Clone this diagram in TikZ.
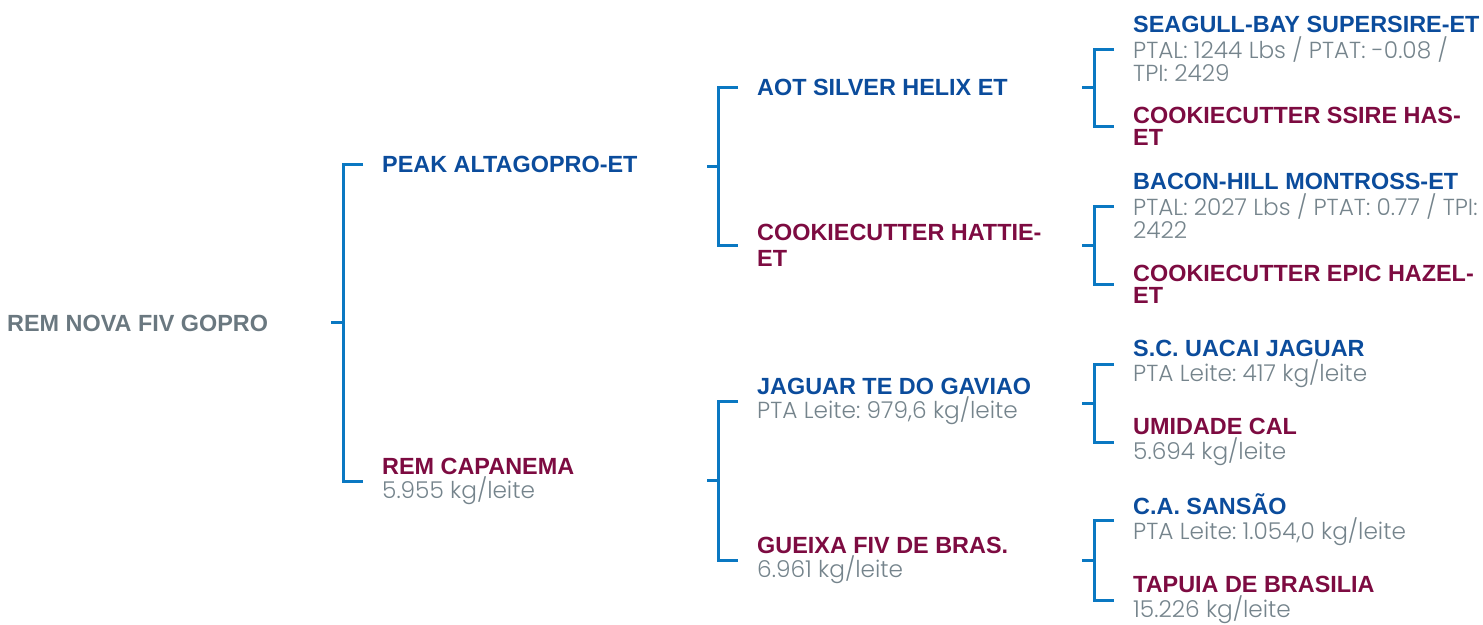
\documentclass[tikz,border=0pt]{standalone}
\usepackage{fontspec}
\usetikzlibrary{calc}
\newfontfamily\bfam{Liberation Sans}
\newfontfamily\lfam{Poppins Light}
\definecolor{nblue}{HTML}{0B4C9C}
\definecolor{nmaroon}{HTML}{7D0B41}
\definecolor{rootgray}{HTML}{6A7880}
\definecolor{dgray}{HTML}{75848C}
\definecolor{brblue}{HTML}{0A78C2}
\frenchspacing
\newcommand{\sire}[1]{{\color{nblue}\bfam\bfseries #1}}
\newcommand{\dam}[1]{{\color{nmaroon}\bfam\bfseries #1}}
\newcommand{\dat}[1]{{\color{dgray}\lfam\fontsize{23.2}{24}\selectfont\frenchspacing #1}}
\begin{document}
\begin{tikzpicture}[x=1pt,y=-1pt,
  txt/.style={anchor=west,inner sep=0pt,align=left,font=\fontsize{23.4}{26}\selectfont},
  br/.style={draw=brblue,line width=3pt}]
\useasboundingbox (0,0) rectangle (1483,624);
% root
\node[txt] (root) at (7,323) {{\color{rootgray}\bfam\bfseries REM NOVA FIV GOPRO}};
% generation 1
\node[txt] (peak) at (382,164) {\sire{PEAK ALTAGOPRO-ET}};
\node[txt] (capa) at (382,481) {\dam{REM CAPANEMA}\\[-2pt]\dat{5.955 kg/leite}};
% generation 2
\node[txt] (aot) at (757,87) {\sire{AOT SILVER HELIX ET}};
\node[txt] (hattie) at (757,245) {\dam{COOKIECUTTER HATTIE-}\\\dam{ET}};
\node[txt] (jag) at (757,401) {\sire{JAGUAR TE DO GAVIAO}\\[-2pt]\dat{PTA Leite: 979,6 kg/leite}};
\node[txt] (gue) at (757,560) {\dam{GUEIXA FIV DE BRAS.}\\[-2pt]\dat{6.961 kg/leite}};
% generation 3
\node[txt] (sea) at (1133,49) {\sire{SEAGULL-BAY SUPERSIRE-ET}\\[0pt]\dat{PTAL: 1244 Lbs / PTAT: -0.08 /}\\[-3pt]\dat{TPI: 2429}};
\node[txt] (ssire) at (1133,126) {\dam{COOKIECUTTER SSIRE HAS-}\\[-4pt]\dam{ET}};
\node[txt] (bacon) at (1133,206) {\sire{BACON-HILL MONTROSS-ET}\\[0pt]\dat{PTAL: 2027 Lbs / PTAT: 0.77 / TPI:}\\[-3pt]\dat{2422}};
\node[txt] (hazel) at (1133,284) {\dam{COOKIECUTTER EPIC HAZEL-}\\[-4pt]\dam{ET}};
\node[txt] (uacai) at (1133,364) {\sire{S.C. UACAI JAGUAR}\\[-1pt]\dat{PTA Leite: 417 kg/leite}};
\node[txt] (umi) at (1133,442) {\dam{UMIDADE CAL}\\[-1pt]\dat{5.694 kg/leite}};
\node[txt] (sansao) at (1133,520) {\sire{C.A. SANSÃO}\\[-1pt]\dat{PTA Leite: 1.054,0 kg/leite}};
\node[txt] (tapuia) at (1133,600) {\dam{TAPUIA DE BRASILIA}\\[-1pt]\dat{15.226 kg/leite}};
% brackets
\foreach \a/\b/\p/\len/\st in {peak/capa/root/20/12, aot/hattie/peak/20/11, jag/gue/capa/20/11,
  sea/ssire/aot/20/12, bacon/hazel/hattie/20/12, uacai/umi/jag/20/12, sansao/tapuia/gue/20/12}{
  \draw[br] ([xshift=-19pt]\a.west) -- ++(-\len pt,0) |- ([xshift=-19pt]\b.west);
  \draw[br] ($([xshift=-19pt-\len pt]\a.west)!0.5!([xshift=-19pt-\len pt]\b.west)$) -- ++(-\st pt,0);
}
\end{tikzpicture}
\end{document}
